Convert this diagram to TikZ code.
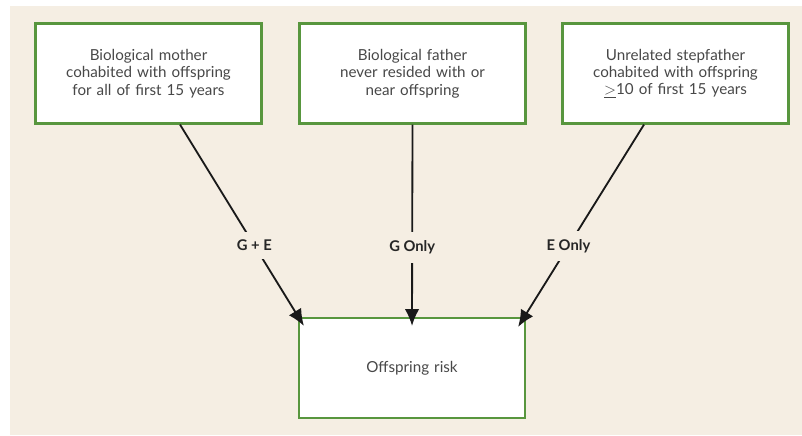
\documentclass[tikz,border=0pt]{standalone}
\usepackage{fontspec}
\setmainfont{Lato}
\usetikzlibrary{arrows.meta,calc}
\definecolor{beige}{RGB}{245,238,227}
\definecolor{boxgreen}{RGB}{88,150,62}
\definecolor{txtgray}{RGB}{72,72,72}
\tikzset{
  factor/.style={draw=boxgreen,line width=1.5pt,fill=white,minimum width=5.65cm,minimum height=2.5cm,
    text width=5.4cm,align=center,text=txtgray,font=\fontsize{10.8}{12.3}\selectfont},
  link/.style={line width=1.3pt,draw=black!90,-{Latex[length=0.42cm,width=0.36cm]}},
  lab/.style={fill=beige,inner xsep=2pt,inner ysep=6pt,font=\fontsize{10.5}{12}\selectfont\bfseries,text=black!85}
}
\begin{document}
\begin{tikzpicture}[x=0.025cm,y=-0.025cm]
        \useasboundingbox (0,0) rectangle (802,435);
        \fill[beige] (10,6) rectangle (802,435);
        \node[factor] (mother) at (148.5,73.5) {Biological mother\\cohabited with offspring\\for all of first 15 years};
        \node[factor] (father) at (412.5,73.5) {Biological father\\never resided with or\\near offspring};
        \node[factor] (stepdad) at (675.5,73.5) {Unrelated stepfather\\cohabited with offspring\\$\underline{>}$10 of first 15 years};
        \node[factor] (risk) at (412,368) {Offspring risk};
        \draw[link] ($(mother.south)+(31.5,0)$) -- node[lab,pos=0.6] {G + E} ($(risk.north west)+(6,9)$);
        \draw[link] (father.south) -- node[lab,pos=0.61] {G Only} ($(risk.north)+(0,9)$);
        \draw[link] ($(stepdad.south)+(-31.5,0)$) -- node[lab,pos=0.6] {E Only} ($(risk.north east)+(-8,10)$);
    \end{tikzpicture}
\end{document}
